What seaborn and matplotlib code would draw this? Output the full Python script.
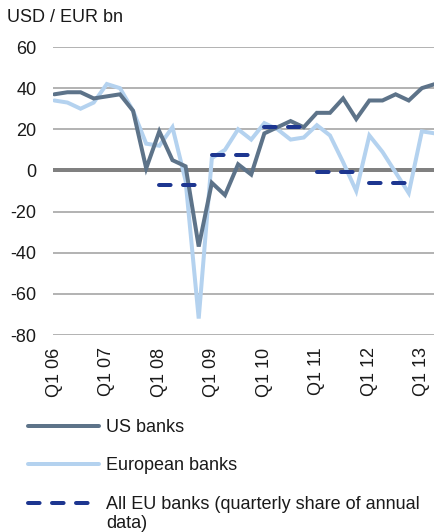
import numpy as np
import pandas as pd
import matplotlib
matplotlib.use("Agg")
import matplotlib.pyplot as plt
import seaborn as sns
from matplotlib.lines import Line2D
from matplotlib.legend_handler import HandlerLine2D

quarters = [f"Q{q} {y:02d}" for y in range(6, 14) for q in range(1, 5)][:30]
tick_labels = ["Q1 06", "Q1 07", "Q1 08", "Q1 09", "Q1 10", "Q1 11", "Q1 12", "Q1 13"]

us_banks = [37, 38, 38, 35, 36, 37, 29, 1, 19, 5, 2, -37, -6, -12, 3, -2,
            18, 21, 24, 21, 28, 28, 35, 25, 34, 34, 37, 34, 40, 42]
eu_banks = [34, 33, 30, 33, 42, 40, 29, 13, 12, 21, -5, -72, 6, 10, 20, 15,
            23, 20, 15, 16, 22, 17, 4, -10, 17, 9, -1, -11, 19, 18]
annual_years = [2008, 2009, 2010, 2011, 2012]
annual_values = [-7, 7.5, 21, -1, -6]

sns.set_theme(style="white")
plt.rcParams["font.family"] = ["Liberation Sans", "DejaVu Sans"]
plt.rcParams["axes.unicode_minus"] = False
FS = 13

df = pd.DataFrame({"idx": np.arange(len(quarters)), "quarter": quarters,
                   "US banks": us_banks, "European banks": eu_banks})

C_US = "#5d7389"
C_EU = "#b4d2ef"
C_ALL = "#1d3690"
DASH = (0, (2.9, 3.1))

fig = plt.figure(figsize=(4.35, 5.32), dpi=100)
ax = fig.add_axes([53/435, 1 - 335/532, (435 - 53)/435, (335 - 47)/532])

LW = 4 * 72 / 100  # 4 px

ax.axhline(0, color="#808080", lw=LW, zorder=1)
sns.lineplot(data=df, x="idx", y="US banks", color=C_US, lw=LW, ax=ax,
             solid_joinstyle="miter", zorder=3)
sns.lineplot(data=df, x="idx", y="European banks", color=C_EU, lw=LW, ax=ax,
             solid_joinstyle="miter", zorder=2)

for yr, val in zip(annual_years, annual_values):
    start = (yr - 2006) * 4
    sub = pd.DataFrame({"idx": np.arange(start, start + 4), "v": [val] * 4})
    sns.lineplot(data=sub, x="idx", y="v", color=C_ALL, lw=LW, ax=ax,
                 linestyle=DASH, dash_capstyle="round", zorder=4)

ax.set_ylim(-80, 60)
ax.set_yticks(np.arange(-80, 61, 20))
ax.set_xlim(-0.1, 29.0)
ax.set_xticks(np.arange(0, 29, 4))
ax.set_xticklabels(tick_labels, rotation=90, fontsize=FS)
ax.tick_params(axis="y", labelsize=FS, pad=12, length=0)
ax.tick_params(axis="x", pad=9, length=0)
ax.set_xlabel("")
ax.set_ylabel("")
ax.yaxis.grid(True, color="#a6a6a6", lw=1.2)
ax.xaxis.grid(False)
for s in ax.spines.values():
    s.set_visible(False)
for lab in ax.get_yticklabels() + ax.get_xticklabels():
    lab.set_color("#1a1a1a")

fig.text(7/435, 1 - 18/532, "USD / EUR bn", fontsize=FS, va="center", ha="left",
         color="#1a1a1a")


class FirstLineHandler(HandlerLine2D):
    def __init__(self, shift, **kw):
        super().__init__(**kw)
        self.shift = shift

    def create_artists(self, legend, orig_handle, xdescent, ydescent, width,
                       height, fontsize, trans):
        arts = super().create_artists(legend, orig_handle, xdescent, ydescent,
                                      width, height, fontsize, trans)
        for a in arts:
            a.set_ydata(np.asarray(a.get_ydata(), dtype=float) + self.shift)
        return arts


handles = [
    Line2D([], [], color=C_US, lw=LW),
    Line2D([], [], color=C_EU, lw=LW),
    Line2D([], [], color=C_ALL, lw=LW, linestyle=DASH, dash_capstyle="round"),
]
labels = ["US banks", "European banks", "All EU banks (quarterly share of annual\ndata)"]
leg = fig.legend(handles, labels, loc="upper left", bbox_to_anchor=(28/435, 1 - 419/532),
                 frameon=False, fontsize=FS, handlelength=3.95, handletextpad=0.36,
                 labelspacing=1.18, borderpad=0, borderaxespad=0,
                 handler_map={handles[2]: FirstLineHandler(shift=0.6 * FS)})
for t in leg.get_texts():
    t.set_color("#1a1a1a")

fig.savefig("out.png", dpi=100)
